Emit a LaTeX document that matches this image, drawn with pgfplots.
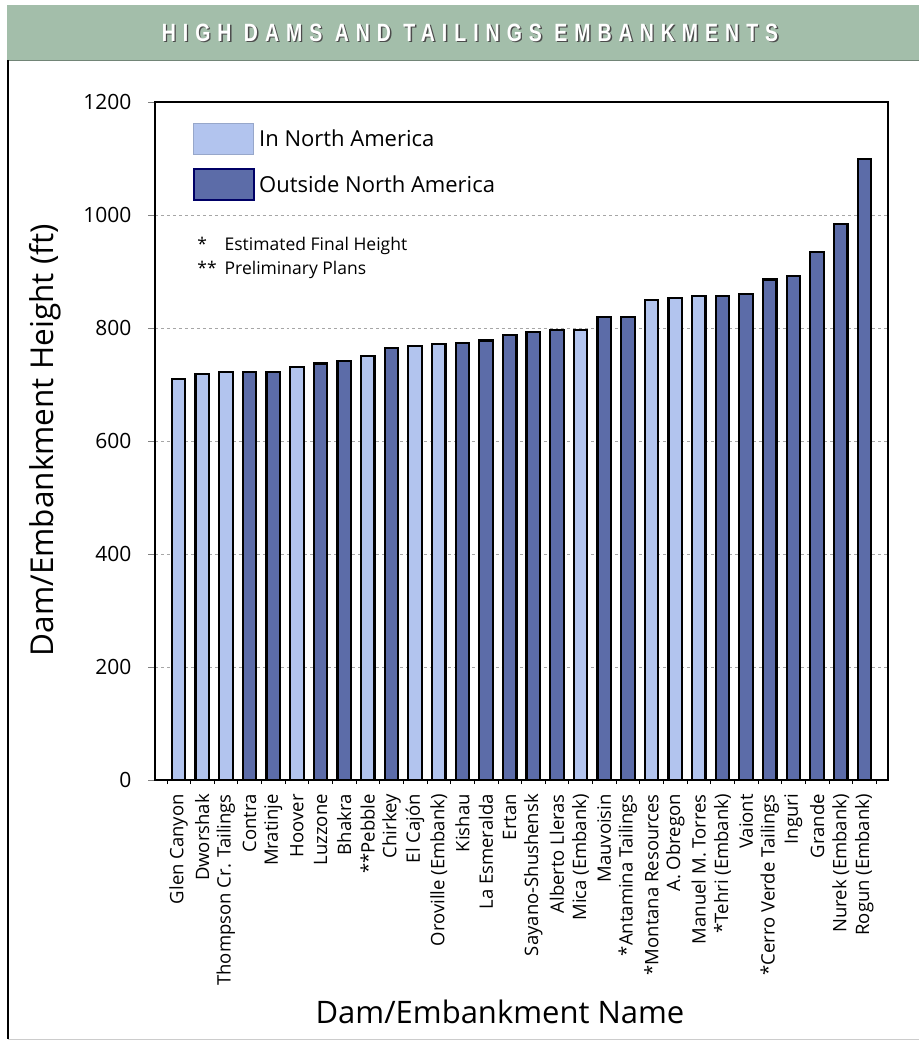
\documentclass[border=0pt]{standalone}
\usepackage{fontspec}
\setmainfont{Open Sans}
\newfontfamily\titlefont[FakeStretch=0.78,LetterSpace=28]{Liberation Sans Bold}
\usepackage{pgfplots}
\pgfplotsset{compat=1.18}

\definecolor{naLight}{RGB}{178,196,238}
\definecolor{naDark}{RGB}{92,108,168}
\definecolor{bandGreen}{RGB}{163,190,170}

\begin{document}
\begin{tikzpicture}
\path[use as bounding box] (0bp,0bp) rectangle (919bp,1042bp);

% title band and frame
\fill[bandGreen] (7bp,982bp) rectangle (919bp,1037bp);
\draw[bandGreen!70!black, line width=0.8bp] (7bp,982bp) -- (919bp,982bp);
\draw[black, line width=1.4bp] (8bp,982bp) -- (8bp,3bp);
\draw[gray!40, line width=0.8bp] (8bp,3bp) -- (919bp,3bp);
\node[text=black!70] at (471.4bp,1007.6bp) {\titlefont\fontsize{25bp}{27bp}\selectfont HIGH DAMS AND TAILINGS EMBANKMENTS};
\node[text=white] at (470bp,1009bp) {\titlefont\fontsize{25bp}{27bp}\selectfont HIGH DAMS AND TAILINGS EMBANKMENTS};

\begin{axis}[
    at={(155bp,262bp)}, anchor=south west,
    scale only axis,
    width=733bp, height=678bp,
    ybar, bar width=13.5bp, bar shift=0pt,
    xmin=0, xmax=31,
    ymin=0, ymax=1200,
    ytick={0,200,...,1200},
    ymajorgrids,
    grid style={gray!70, dashed, line width=0.6bp},
    axis line style={line width=1.3bp},
    tick pos=left,
    tick align=outside,
    major tick length=7bp,
    xtick={1,...,30},
    xtick style={draw=none},
    xticklabels={Glen Canyon, Dworshak, Thompson Cr. Tailings, Contra, Mratinje, Hoover, Luzzone, Bhakra, **Pebble, Chirkey, El Cajón, Oroville (Embank), Kishau, La Esmeralda, Ertan, Sayano-Shushensk, Alberto Lleras, Mica (Embank), Mauvoisin, *Antamina Tailings, *Montana Resources, A. Obregon, Manuel M. Torres, *Tehri (Embank), Vaiont, *Cerro Verde Tailings, Inguri, Grande, Nurek (Embank), Rogun (Embank)},
    xticklabel style={yshift=-7bp, rotate=90, anchor=east, inner sep=0pt, font=\fontsize{18.5bp}{20bp}\selectfont},
    extra x ticks={0.5,1.5,...,30.5},
    extra x tick labels={},
    extra x tick style={major tick length=4bp, xtick style={draw=black, line width=0.6bp}, grid=none},
    yticklabel style={font=\fontsize{21bp}{23bp}\selectfont, xshift=-13bp, /pgf/number format/assume math mode=true, /pgf/number format/1000 sep={}},
    ylabel={Dam/Embankment Height (ft)},
    ylabel style={font=\fontsize{31.5bp}{33bp}\selectfont, at={(axis description cs:-0.150,0.501)}, anchor=center},
    xlabel={Dam/Embankment Name},
    xlabel style={font=\fontsize{31bp}{33bp}\selectfont, at={(axis description cs:0.4707,-0.342)}, anchor=center},
    legend style={at={(axis description cs:0.0518,0.969)}, anchor=north west, draw=none, fill=white, inner sep=0pt,
        font=\fontsize{22bp}{24bp}\selectfont, row sep=13bp,
        nodes={inner sep=0pt, anchor=west}},
    legend cell align=left,
]
\addlegendimage{legend image code/.code={\draw[fill=naLight, draw=naLight!85!black, line width=1bp] (0bp,-15.5bp) rectangle (60bp,15.5bp); \path (65bp,0bp);}}
\addlegendentry{In North America}
\addlegendimage{legend image code/.code={\draw[fill=naDark, draw=blue!40!black, line width=1.6bp] (0bp,-15.5bp) rectangle (60bp,15.5bp); \path (65bp,0bp);}}
\addlegendentry{Outside North America}

\addplot[forget plot, fill=naLight, draw=black, line width=2.2bp] coordinates {
    (1,710) (2,719) (3,722) (6,731) (9,750) (11,768) (12,771) (18,797)
    (21,850) (22,853) (23,856)
};
\addplot[forget plot, fill=naDark, draw=black, line width=2.2bp] coordinates {
    (4,722) (5,722) (7,737) (8,741) (10,764) (13,774) (14,778) (15,787)
    (16,793) (17,797) (19,820) (20,820) (24,856) (25,860) (26,886)
    (27,892) (28,935) (29,984) (30,1099)
};

\node[anchor=west, font=\fontsize{17.5bp}{24bp}\selectfont] at (axis description cs:0.053,0.771)
    {\begin{tabular}{@{}l@{\hspace{8bp}}l@{}}{*} & Estimated Final Height\\{**} & Preliminary Plans\end{tabular}};
\end{axis}
\end{tikzpicture}
\end{document}
